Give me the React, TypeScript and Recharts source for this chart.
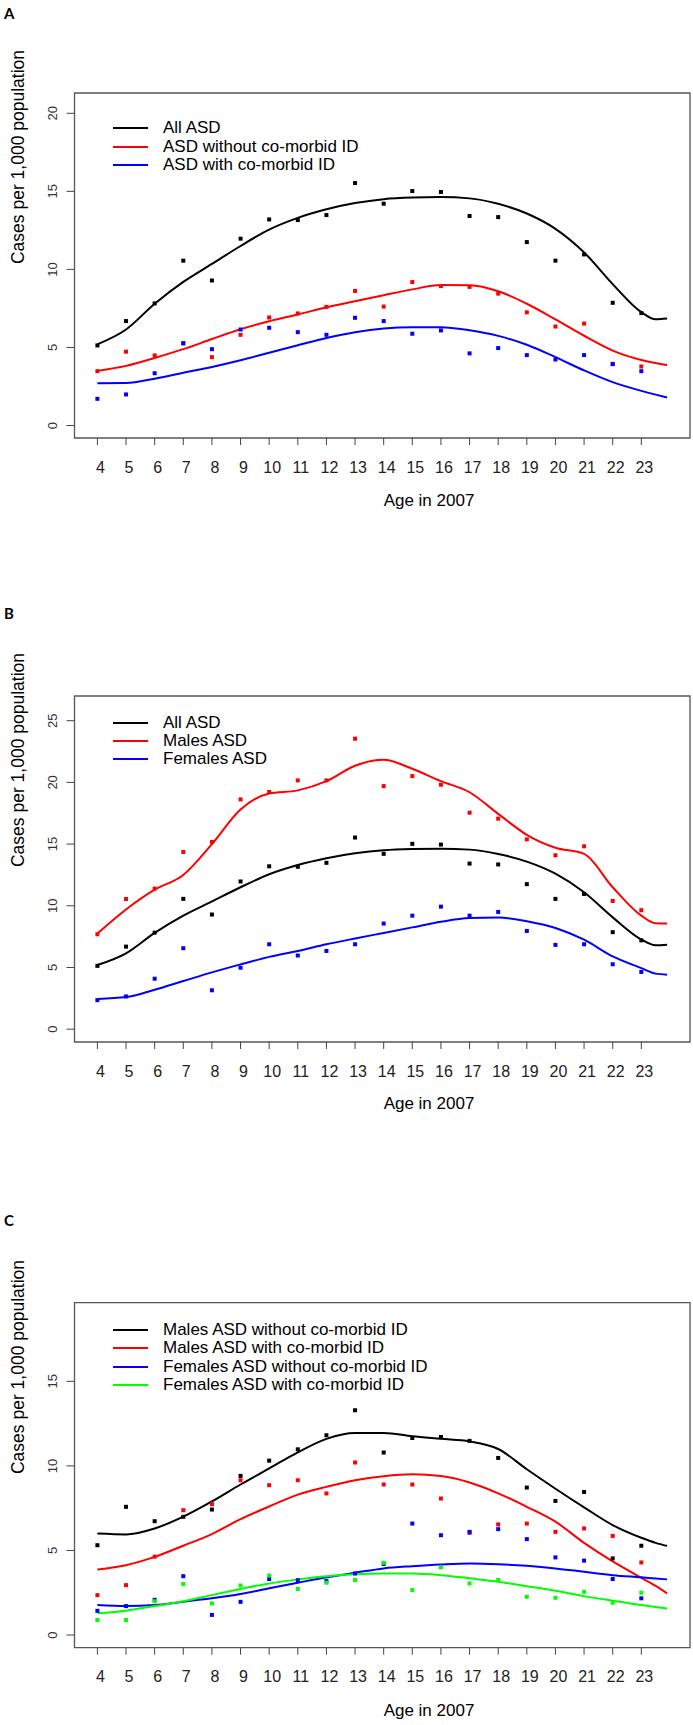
import React from "react";
import { ComposedChart, Line, Scatter, XAxis, YAxis, ReferenceArea, Legend } from "recharts";

// one observed point per age
const ages = [4, 5, 6, 7, 8, 9, 10, 11, 12, 13, 14, 15, 16, 17, 18, 19, 20, 21, 22, 23];
const curveAges = [4, 5, 6, 7, 8, 9, 10, 11, 12, 13, 14, 15, 16, 17, 18, 19, 20, 21, 22, 23, 23.5, 23.9];

// panel A / B : all ASD
const allAsdPts = [5.13, 6.69, 7.82, 10.56, 9.29, 11.97, 13.2, 13.16, 13.48, 15.53, 14.21, 15.02, 14.96, 13.42, 13.35, 11.75, 10.56, 10.96, 7.86, 7.2];
const allAsdCurve = [5.2, 6.15, 7.8, 9.2, 10.35, 11.5, 12.55, 13.3, 13.85, 14.25, 14.5, 14.6, 14.63, 14.55, 14.2, 13.58, 12.6, 11.09, 9.06, 7.26, 6.8, 6.85];

// panel A
const withoutIdPts = [3.48, 4.73, 4.49, 5.28, 4.38, 5.81, 6.92, 7.18, 7.6, 8.62, 7.62, 9.19, 8.93, 8.88, 8.45, 7.25, 6.34, 6.53, 3.95, 3.78];
const withoutIdCurve = [3.5, 3.82, 4.33, 4.89, 5.54, 6.17, 6.68, 7.11, 7.57, 7.96, 8.35, 8.72, 9.0, 8.98, 8.6, 7.8, 6.8, 5.75, 4.8, 4.2, 4.0, 3.87];
const withIdPts = [1.71, 1.99, 3.35, 5.26, 4.89, 6.15, 6.26, 5.98, 5.81, 6.9, 6.69, 5.88, 6.09, 4.62, 4.96, 4.51, 4.23, 4.51, 3.93, 3.48];
const withIdCurve = [2.71, 2.72, 3.0, 3.38, 3.75, 4.18, 4.66, 5.14, 5.61, 5.98, 6.22, 6.3, 6.3, 6.1, 5.74, 5.17, 4.38, 3.53, 2.78, 2.22, 1.98, 1.8];

// panel B
const malesPts = [7.69, 10.55, 11.39, 14.36, 15.17, 18.62, 19.22, 20.16, 20.16, 23.54, 19.7, 20.51, 19.81, 17.54, 17.06, 15.38, 14.09, 14.82, 10.39, 9.64];
const malesCurve = [7.75, 9.7, 11.3, 12.5, 15.0, 17.8, 19.1, 19.35, 20.1, 21.35, 21.84, 21.1, 20.1, 19.2, 17.45, 15.75, 14.7, 14.2, 11.5, 9.2, 8.58, 8.56];
const femalesPts = [2.35, 2.65, 4.09, 6.56, 3.15, 4.98, 6.88, 5.97, 6.34, 6.88, 8.56, 9.2, 9.93, 9.2, 9.5, 7.96, 6.83, 6.88, 5.26, 4.64];
const femalesCurve = [2.45, 2.6, 3.2, 3.9, 4.6, 5.25, 5.86, 6.34, 6.88, 7.35, 7.8, 8.25, 8.7, 9.0, 9.05, 8.75, 8.2, 7.25, 5.9, 4.95, 4.5, 4.42];

// panel C
const mWithoutPts = [5.31, 7.58, 6.73, 6.99, 7.42, 9.41, 10.31, 10.98, 11.81, 13.29, 10.79, 11.65, 11.71, 11.48, 10.47, 8.72, 7.93, 8.46, 4.53, 5.28];
const mWithoutCurve = [6.0, 5.95, 6.3, 7.0, 7.9, 8.9, 9.85, 10.8, 11.6, 11.95, 11.95, 11.75, 11.6, 11.45, 11.0, 9.8, 8.65, 7.55, 6.5, 5.75, 5.45, 5.27];
const mWithPts = [2.36, 2.95, 4.63, 7.38, 7.74, 9.15, 8.86, 9.15, 8.37, 10.2, 8.9, 8.9, 8.07, 6.04, 6.54, 6.59, 6.1, 6.3, 5.86, 4.29];
const mWithCurve = [3.88, 4.13, 4.62, 5.28, 5.97, 6.85, 7.6, 8.3, 8.76, 9.15, 9.39, 9.5, 9.4, 9.02, 8.38, 7.58, 6.7, 5.45, 4.35, 3.38, 2.9, 2.46];
const fWithoutPts = [1.43, 1.71, 2.08, 3.48, 1.19, 1.96, 3.31, 3.24, 3.2, 3.64, 4.2, 6.59, 5.9, 6.1, 6.26, 5.67, 4.59, 4.4, 3.31, 2.17];
const fWithoutCurve = [1.77, 1.71, 1.77, 1.97, 2.17, 2.42, 2.76, 3.09, 3.41, 3.68, 3.94, 4.07, 4.17, 4.23, 4.19, 4.09, 3.94, 3.74, 3.54, 3.41, 3.34, 3.29];
const fWithPts = [0.89, 0.89, 2.0, 3.01, 1.87, 2.93, 3.52, 2.72, 3.09, 3.25, 4.27, 2.66, 4.0, 3.05, 3.25, 2.26, 2.2, 2.56, 1.91, 2.5];
const fWithCurve = [1.28, 1.44, 1.71, 2.0, 2.36, 2.72, 3.05, 3.29, 3.48, 3.6, 3.64, 3.64, 3.54, 3.35, 3.15, 2.89, 2.62, 2.3, 2.03, 1.77, 1.66, 1.57];

const FONT = "'Liberation Sans', Arial, Helvetica, sans-serif";
const TICK_FONT = "'Liberation Sans Narrow', 'Liberation Sans', Arial, sans-serif";
const X_DOMAIN: [number, number] = [3.2, 24.7];

interface Serie {
  label: string;
  color: string;
  pts: number[];
  curve: number[];
}

interface PanelProps {
  top: number;
  height: number;
  marginTop: number;
  marginBottom: number;
  yDomain: [number, number];
  yTicks: number[];
  series: Serie[];
  legendTop: number;
}

const XTick = (p: any) => (
  <text x={p.x + 3} y={p.y} textAnchor="middle" dominantBaseline="central" fontSize={16} fontFamily={TICK_FONT} fill="#222">
    {p.payload.value}
  </text>
);

const YTick = (p: any) => (
  <text
    x={p.x}
    y={p.y}
    transform={`rotate(-90 ${p.x} ${p.y})`}
    textAnchor="middle"
    dominantBaseline="central"
    fontSize={13}
    fontFamily={FONT}
    fill="#333"
  >
    {p.payload.value}
  </text>
);

const square = (color: string) => (p: any) => (
  <rect x={p.cx - 2} y={p.cy - 2} width={4} height={4} fill={color} />
);

function Panel({ top, height, marginTop, marginBottom, yDomain, yTicks, series, legendTop }: PanelProps) {
  return (
    <div style={{ position: "absolute", left: 0, top, width: 693, height }}>
      <ComposedChart
        width={693}
        height={height}
        margin={{ top: marginTop, right: 3, bottom: marginBottom, left: 54.5 }}
      >
        <XAxis
          type="number"
          dataKey="x"
          domain={X_DOMAIN}
          ticks={ages}
          interval={0}
          allowDataOverflow
          axisLine={false}
          tickLine={{ stroke: "#444" }}
          tickSize={7}
          tickMargin={22}
          height={40}
          tick={XTick}
        />
        <YAxis
          type="number"
          domain={yDomain}
          ticks={yTicks}
          interval={0}
          allowDataOverflow
          axisLine={false}
          tickLine={{ stroke: "#444" }}
          tickSize={8}
          tickMargin={13.5}
          width={20}
          tick={YTick}
        />
        <ReferenceArea
          x1={X_DOMAIN[0]}
          x2={X_DOMAIN[1]}
          y1={yDomain[0]}
          y2={yDomain[1]}
          fill="none"
          fillOpacity={0}
          stroke="#555"
          strokeWidth={1.3}
          ifOverflow="visible"
        />
        {series.map((s) => (
          <Line
            key={"l" + s.label}
            data={curveAges.map((a, i) => ({ x: a, y: s.curve[i] }))}
            dataKey="y"
            type="monotone"
            stroke={s.color}
            strokeWidth={2}
            dot={false}
            activeDot={false}
            isAnimationActive={false}
          />
        ))}
        {series.map((s) => (
          <Scatter
            key={"p" + s.label}
            data={ages.map((a, i) => ({ x: a, y: s.pts[i] }))}
            dataKey="y"
            fill={s.color}
            shape={square(s.color)}
            isAnimationActive={false}
          />
        ))}
        <Legend
          layout="vertical"
          align="center"
          verticalAlign="middle"
          wrapperStyle={{ left: 113, top: legendTop, width: 420 }}
          content={() => (
            <div style={{ fontFamily: FONT, fontSize: 17, color: "#000" }}>
              {series.map((s) => (
                <div key={s.label} style={{ display: "flex", alignItems: "center", height: 18.4, whiteSpace: "nowrap" }}>
                  <span style={{ display: "inline-block", width: 35, height: 2, background: s.color, marginRight: 15 }} />
                  <span>{s.label}</span>
                </div>
              ))}
            </div>
          )}
        />
      </ComposedChart>
    </div>
  );
}

const seriesA: Serie[] = [
  { label: "All ASD", color: "#000000", pts: allAsdPts, curve: allAsdCurve },
  { label: "ASD without co-morbid ID", color: "#ff0000", pts: withoutIdPts, curve: withoutIdCurve },
  { label: "ASD with co-morbid ID", color: "#0000ff", pts: withIdPts, curve: withIdCurve },
];

const seriesB: Serie[] = [
  { label: "All ASD", color: "#000000", pts: allAsdPts, curve: allAsdCurve },
  { label: "Males ASD", color: "#ff0000", pts: malesPts, curve: malesCurve },
  { label: "Females ASD", color: "#0000ff", pts: femalesPts, curve: femalesCurve },
];

const seriesC: Serie[] = [
  { label: "Males ASD without co-morbid ID", color: "#000000", pts: mWithoutPts, curve: mWithoutCurve },
  { label: "Males ASD with co-morbid ID", color: "#ff0000", pts: mWithPts, curve: mWithCurve },
  { label: "Females ASD without co-morbid ID", color: "#0000ff", pts: fWithoutPts, curve: fWithoutCurve },
  { label: "Females ASD with co-morbid ID", color: "#00ff00", pts: fWithPts, curve: fWithCurve },
];

const YTITLE = "Cases per 1,000 population";

export default function App() {
  return (
    <div style={{ position: "absolute", left: 0, top: 0, width: 693, height: 1725, background: "#fff" }}>
      <Panel top={0} height={540} marginTop={93} marginBottom={62} yDomain={[-0.8, 21.3]} yTicks={[0, 5, 10, 15, 20]} series={seriesA} legendTop={119} />
      <Panel top={540} height={610} marginTop={156} marginBottom={68} yDomain={[-1.04, 27.0]} yTicks={[0, 5, 10, 15, 20, 25]} series={seriesB} legendTop={173.5} />
      <Panel top={1150} height={575} marginTop={152.7} marginBottom={37.3} yDomain={[-0.75, 19.65]} yTicks={[0, 5, 10, 15]} series={seriesC} legendTop={170.8} />
      <svg width={693} height={1725} style={{ position: "absolute", left: 0, top: 0, pointerEvents: "none" }}>
        <g fontFamily="Lato, 'Open Sans', sans-serif" fontWeight={700} fontSize={15} fill="#000">
          <text x={4} y={13} dominantBaseline="central">A</text>
          <text x={4} y={613} dominantBaseline="central">B</text>
          <text x={4} y={1220} dominantBaseline="central">C</text>
        </g>
        <g fontFamily={FONT} fontSize={17.5} fill="#000" textAnchor="middle">
          <text x={17.5} y={157} dominantBaseline="central" transform="rotate(-90 17.5 157)">{YTITLE}</text>
          <text x={17.5} y={760} dominantBaseline="central" transform="rotate(-90 17.5 760)">{YTITLE}</text>
          <text x={17.5} y={1367} dominantBaseline="central" transform="rotate(-90 17.5 1367)">{YTITLE}</text>
        </g>
        <g fontFamily={FONT} fontSize={17} fill="#000" textAnchor="middle">
          <text x={429} y={500} dominantBaseline="central">Age in 2007</text>
          <text x={429} y={1103} dominantBaseline="central">Age in 2007</text>
          <text x={429} y={1710} dominantBaseline="central">Age in 2007</text>
        </g>
      </svg>
    </div>
  );
}
